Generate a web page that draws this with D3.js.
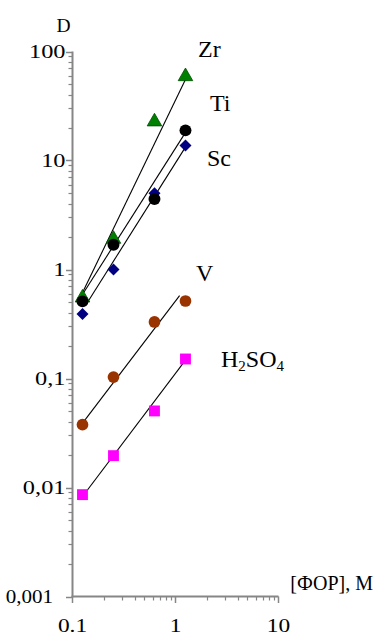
<!DOCTYPE html>
<html><head><meta charset="utf-8">
<script src="https://cdn.jsdelivr.net/npm/d3@7"></script>
<style>
html,body{margin:0;padding:0;background:#fff;}
svg{display:block;font-family:"Liberation Serif","Times New Roman",serif;}
</style></head>
<body><svg id="c" width="375" height="636"></svg>
<script>
// ---- data ----
const xValues = [0.125, 0.25, 0.625, 1.25];
const seriesNames = ["Zr", "Ti", "Sc", "V", "H2SO4"];
const zrValues = [0.55, 1.9, 22.7, 59];
const tiValues = [0.51, 1.69, 4.43, 18.9];
const scValues = [0.39, 1.0, 5.0, 13.7];
const vValues = [0.0377, 0.103, 0.33, 0.514];
const h2so4Values = [0.0086, 0.0196, 0.0504, 0.151];
// fitted trend lines: [x0, y0, x1, y1]
const zrFit = [0.1236, 0.60, 1.27, 57];
const tiFit = [0.1236, 0.58, 1.27, 18.5];
const scFit = [0.138, 0.49, 1.29, 13.9];
const vFit = [0.121, 0.0374, 1.096, 0.575];
const h2so4Fit = [0.135, 0.0091, 1.36, 0.164];
const xTickValues = [0.1, 1, 10];
const xTickLabels = ["0.1", "1", "10"];
const yTickValues = [0.001, 0.01, 0.1, 1, 10, 100];
const yTickLabels = ["0,001", "0,01", "0,1", "1", "10", "100"];
const yTitle = "D";
const xTitle = "[ФОР], М";

// ---- layout ----
const svg = d3.select("#c");
const x = d3.scaleLog().domain([0.1, 10]).range([72.5, 278.5]);
const y = d3.scaleLog().domain([0.001, 100]).range([596.5, 51.5]);
const axisColor = "#868686";

function minorTicks(lo, hi) {
  const out = [];
  for (let d = lo; d < hi; d *= 10) for (let k = 2; k <= 9; k++) out.push(d * k);
  return out;
}

// y axis
const gy = svg.append("g");
gy.selectAll("line.minor").data(minorTicks(0.001, 100)).join("line")
  .attr("x1", 68.5).attr("x2", 72.5)
  .attr("y1", d => Math.round(y(d)) + 0.5).attr("y2", d => Math.round(y(d)) + 0.5)
  .attr("stroke", axisColor).attr("stroke-width", 1.2);
gy.selectAll("line.major").data(yTickValues).join("line")
  .attr("x1", 66).attr("x2", 72.5)
  .attr("y1", d => Math.round(y(d)) + 0.5).attr("y2", d => Math.round(y(d)) + 0.5)
  .attr("stroke", axisColor).attr("stroke-width", 1.5);
gy.append("line").attr("x1", 72.5).attr("x2", 72.5).attr("y1", y(100)).attr("y2", y(0.001) + 0.8)
  .attr("stroke", axisColor).attr("stroke-width", 2);
gy.selectAll("text").data(yTickValues).join("text")
  .attr("transform", (d, i) => `translate(${i === 0 ? 53 : 65.5},${y(d) + 6.5}) scale(${i === 0 ? 1.08 : 1.25},1)`)
  .attr("text-anchor", "end").attr("font-size", 19.5).attr("fill", "#000")
  .text((d, i) => yTickLabels[i]);

// x axis
const gx = svg.append("g");
gx.selectAll("line.minor").data(minorTicks(0.1, 10)).join("line")
  .attr("x1", d => Math.round(x(d)) + 0.5).attr("x2", d => Math.round(x(d)) + 0.5)
  .attr("y1", 596.5).attr("y2", 600.5)
  .attr("stroke", axisColor).attr("stroke-width", 1.2);
gx.selectAll("line.major").data(xTickValues).join("line")
  .attr("x1", d => x(d)).attr("x2", d => x(d))
  .attr("y1", 596.5).attr("y2", 603)
  .attr("stroke", axisColor).attr("stroke-width", 1.5);
gx.append("line").attr("x1", 71.5).attr("x2", x(10)).attr("y1", 596.5).attr("y2", 596.5)
  .attr("stroke", axisColor).attr("stroke-width", 2);
gx.selectAll("text").data(xTickValues).join("text")
  .attr("transform", d => `translate(${x(d)},632) scale(1.2,1)`)
  .attr("text-anchor", "middle").attr("font-size", 19.5).attr("fill", "#000")
  .text((d, i) => xTickLabels[i]);

// titles
svg.append("text").attr("x", 63.5).attr("y", 32).attr("text-anchor", "middle")
  .attr("font-size", 19.5).text(yTitle);
svg.append("text").attr("x", 373).attr("y", 590).attr("text-anchor", "end")
  .attr("font-size", 20).text(xTitle);

// trend lines
const fits = [zrFit, tiFit, scFit, vFit, h2so4Fit];
svg.append("g").selectAll("line").data(fits).join("line")
  .attr("x1", d => x(d[0])).attr("y1", d => y(d[1]))
  .attr("x2", d => x(d[2])).attr("y2", d => y(d[3]))
  .attr("stroke", "#000").attr("stroke-width", 1.1);

// markers
const styles = {
  Zr:    {vals: zrValues, sym: d3.symbolTriangle, size: 92, fill: "#008000", stroke: "#004d00", sw: 0.8, rot: 0},
  Sc:    {vals: scValues, sym: d3.symbolSquare, size: 72, fill: "#000080", stroke: "none", sw: 0, rot: 45},
  Ti:    {vals: tiValues, sym: d3.symbolCircle, size: 112, fill: "#000000", stroke: "none", sw: 0, rot: 0},
  V:     {vals: vValues, sym: d3.symbolCircle, size: 108, fill: "#993300", stroke: "none", sw: 0, rot: 0},
  H2SO4: {vals: h2so4Values, sym: d3.symbolSquare, size: 118, fill: "#ff00ff", stroke: "none", sw: 0, rot: 0}
};
const drawOrder = ["Zr", "Sc", "Ti", "V", "H2SO4"];
drawOrder.forEach(name => {
  const s = styles[name];
  svg.append("g").selectAll("path").data(s.vals).join("path")
    .attr("d", d3.symbol(s.sym, s.size)())
    .attr("transform", (d, i) => `translate(${x(xValues[i])},${y(d)}) rotate(${s.rot})`)
    .attr("fill", s.fill).attr("stroke", s.stroke).attr("stroke-width", s.sw);
});

// series labels
const lab = svg.append("g").attr("font-size", 24).attr("fill", "#000");
lab.append("text").attr("x", 198).attr("y", 57).text(seriesNames[0]);
lab.append("text").attr("x", 210).attr("y", 111).text(seriesNames[1]);
lab.append("text").attr("x", 207).attr("y", 166).text(seriesNames[2]);
lab.append("text").attr("x", 196).attr("y", 281).text(seriesNames[3]);
const h = lab.append("text").attr("x", 221).attr("y", 367);
h.append("tspan").text("H");
h.append("tspan").attr("font-size", 15).attr("dy", 4).text("2");
h.append("tspan").attr("dy", -4).text("SO");
h.append("tspan").attr("font-size", 15).attr("dy", 4).text("4");
</script></body></html>
